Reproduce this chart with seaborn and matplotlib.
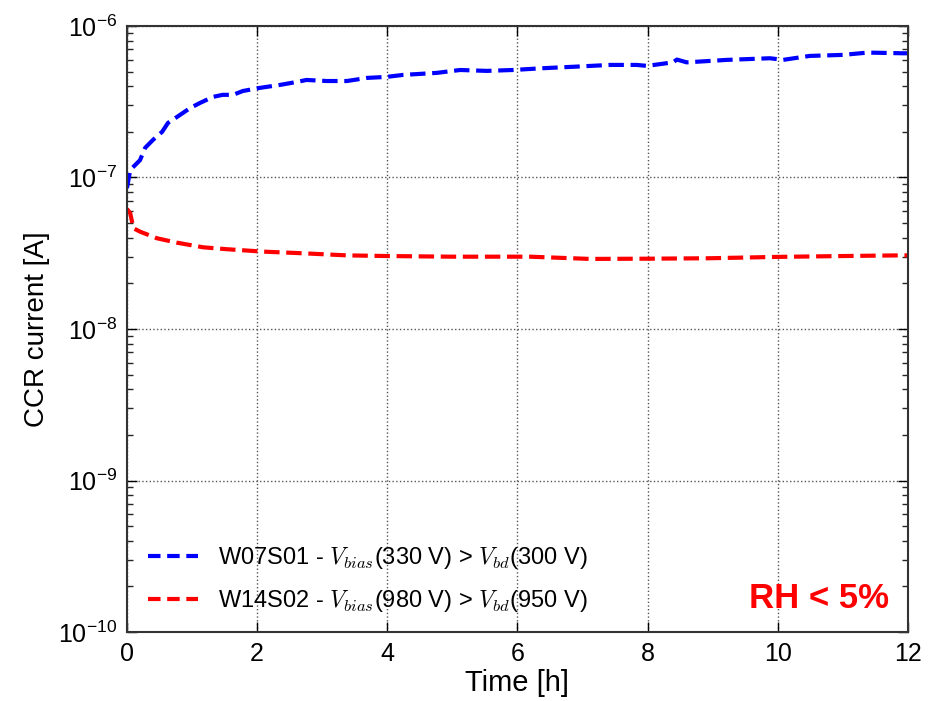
import matplotlib
matplotlib.use("Agg")
import matplotlib.pyplot as plt
import matplotlib.ticker as mticker
import numpy as np
import pandas as pd
import seaborn as sns

# --- data ---
t_blue = [0.0, 0.05, 0.2, 0.28, 0.40, 0.54, 0.63, 0.77, 0.97, 1.12, 1.32, 1.47, 1.63, 1.78,
          2.04, 2.35, 2.61, 2.76, 3.07, 3.38, 3.69, 3.99, 4.24, 4.76, 5.12, 5.53, 5.93,
          6.39, 6.91, 7.42, 7.83, 7.99, 8.39, 8.45, 8.6, 9.22, 9.88, 10.08, 10.49, 11.0,
          11.38, 11.92, 12.0]
i_blue = [8.5e-8, 1.12e-7, 1.30e-7, 1.57e-7, 1.77e-7, 2.0e-7, 2.29e-7, 2.51e-7, 2.87e-7,
          3.10e-7, 3.40e-7, 3.51e-7, 3.51e-7, 3.72e-7, 3.90e-7, 4.08e-7, 4.27e-7, 4.40e-7,
          4.33e-7, 4.33e-7, 4.54e-7, 4.61e-7, 4.75e-7, 4.90e-7, 5.12e-7, 5.05e-7, 5.12e-7,
          5.26e-7, 5.39e-7, 5.53e-7, 5.53e-7, 5.45e-7, 5.75e-7, 6.0e-7, 5.75e-7, 5.97e-7,
          6.12e-7, 5.97e-7, 6.34e-7, 6.44e-7, 6.67e-7, 6.6e-7, 6.6e-7]

t_red = [0.0, 0.05, 0.1, 0.2, 0.46, 0.77, 1.17, 1.54, 2.09, 2.7, 3.38, 3.99, 5.0, 5.93,
         6.19, 7.11, 8.03, 8.96, 9.98, 11.0, 11.87, 12.0]
i_red = [6.2e-8, 5.8e-8, 4.62e-8, 4.39e-8, 3.97e-8, 3.71e-8, 3.46e-8, 3.36e-8, 3.24e-8,
         3.16e-8, 3.06e-8, 3.03e-8, 3.0e-8, 3.0e-8, 3.0e-8, 2.90e-8, 2.91e-8, 2.93e-8,
         2.99e-8, 3.03e-8, 3.06e-8, 3.06e-8]

labels = [r"W07S01 - $V_{bias}$(330 V) > $V_{bd}$(300 V)",
          r"W14S02 - $V_{bias}$(980 V) > $V_{bd}$(950 V)"]
colors = ["#0000ff", "#ff0000"]
x_ticks = [0, 2, 4, 6, 8, 10, 12]
y_exps = [-10, -9, -8, -7, -6]

df = pd.concat([
    pd.DataFrame({"t": t_blue, "I": i_blue, "series": labels[0]}),
    pd.DataFrame({"t": t_red, "I": i_red, "series": labels[1]}),
], ignore_index=True)

sns.set_style("ticks")
plt.rcParams["font.family"] = ["Liberation Sans", "DejaVu Sans"]
plt.rcParams["mathtext.fontset"] = "cm"
plt.rcParams["text.color"] = "black"
plt.rcParams["axes.labelcolor"] = "black"

fig = plt.figure(figsize=(9.37, 7.01), dpi=100)
ax = fig.add_axes([0.1355, 0.0984, 0.969 - 0.1355, 0.963 - 0.0984])

sns.lineplot(data=df, x="t", y="I", hue="series", palette=colors, ax=ax,
             linewidth=3, linestyle="--", sort=True, legend=True)

ax.set_yscale("log")
ax.set_xlim(0, 12)
ax.set_ylim(1e-10, 1e-6)
ax.set_xticks(x_ticks)
ax.set_xticklabels([str(v) for v in x_ticks])
ax.set_yticks([10.0 ** e for e in y_exps])
ax.set_yticklabels([r"$\mathregular{10^{%d}}$" % e for e in y_exps])
ax.yaxis.set_minor_locator(mticker.LogLocator(base=10, subs=np.arange(2, 10), numticks=20))
ax.yaxis.set_minor_formatter(mticker.NullFormatter())

ax.grid(True, which="major", linestyle=":", color="#555555", linewidth=1.0)
ax.tick_params(axis="both", which="major", direction="in", length=7, width=1,
               top=True, right=True, labelsize=18, colors="#000000", pad=7)
ax.tick_params(axis="y", which="minor", direction="in", length=4, width=1,
               left=True, right=True)
for s in ax.spines.values():
    s.set_color("#333333")
    s.set_linewidth(1.5)

ax.set_xlabel("Time [h]", fontsize=21, labelpad=2)
ax.set_ylabel("CCR current [A]", fontsize=20, labelpad=6)

leg = ax.legend(loc="lower left", bbox_to_anchor=(0.027, 0.03), frameon=False,
                borderaxespad=0, borderpad=0,
                fontsize=17, handlelength=2.1, handletextpad=0.85, labelspacing=0.7)
for h in leg.get_lines():
    h.set_linewidth(3)
    h.set_dashes([3.0, 1.6])
for txt in leg.get_texts():
    txt.set_color("black")

ax.text(0.976, 0.04, "RH < 5%", transform=ax.transAxes, ha="right", va="baseline",
        color="#ff0000", fontsize=25, fontweight="bold")

fig.savefig("out.png", dpi=100)
